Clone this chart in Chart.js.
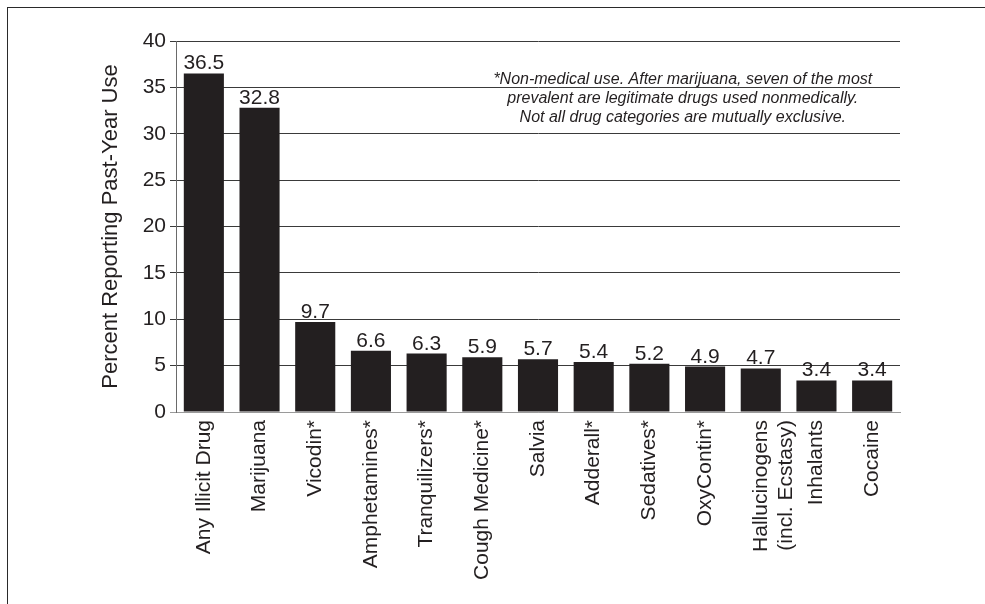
<!DOCTYPE html>
<html>
<head>
<meta charset="utf-8">
<script src="https://cdn.jsdelivr.net/npm/chart.js@4/dist/chart.umd.min.js"></script>
<style>
  html, body { margin: 0; padding: 0; background: #fff; overflow: hidden; }
  #wrap { position: relative; width: 985px; height: 604px; }
  #frame {
    position: absolute; left: 7px; top: 7px; width: 1200px; height: 1200px;
    border-top: 1px solid #2a2a2a; border-left: 1px solid #2a2a2a;
  }
  #chart { position: absolute; left: 0; top: 0; }
</style>
</head>
<body>
<div id="wrap">
  <div id="frame"></div>
  <canvas id="chart" width="985" height="604"></canvas>
</div>
<script>
// 薬物カテゴリ
const categories = [
  'Any Illicit Drug', 'Marijuana', 'Vicodin*', 'Amphetamines*', 'Tranquilizers*',
  'Cough Medicine*', 'Salvia', 'Adderall*', 'Sedatives*', 'OxyContin*',
  ['Hallucinogens', '(incl. Ecstasy)'], 'Inhalants', 'Cocaine'
];
// 過去1年の使用率 (%)
const percentValues = [36.5, 32.8, 9.7, 6.6, 6.3, 5.9, 5.7, 5.4, 5.2, 4.9, 4.7, 3.4, 3.4];
const yTicks = [0, 5, 10, 15, 20, 25, 30, 35, 40];
const noteLines = [
  '*Non-medical use. After marijuana, seven of the most',
  'prevalent are legitimate drugs used nonmedically.',
  'Not all drug categories are mutually exclusive.'
];

const FONT = "'Liberation Sans', Arial, Helvetica, sans-serif";
const INK = '#231f20';

// バーの上に数値を書く
const valueLabels = {
  id: 'valueLabels',
  afterDatasetsDraw(chart) {
    const ctx = chart.ctx;
    const meta = chart.getDatasetMeta(0);
    ctx.save();
    ctx.font = '21px ' + FONT;
    ctx.fillStyle = INK;
    ctx.textAlign = 'center';
    ctx.textBaseline = 'alphabetic';
    meta.data.forEach((bar, i) => {
      ctx.fillText(percentValues[i].toFixed(1), bar.x, bar.y - 4);
    });
    ctx.restore();
  }
};

// 右上の注記
const noteText = {
  id: 'noteText',
  afterDraw(chart) {
    const ctx = chart.ctx;
    const area = chart.chartArea;
    const y0 = chart.scales.y.getPixelForValue(36);
    const cx = area.left + (area.right - area.left) * 0.7;
    ctx.save();
    ctx.font = 'italic 16px ' + FONT;
    ctx.fillStyle = INK;
    ctx.textAlign = 'center';
    ctx.textBaseline = 'middle';
    noteLines.forEach((line, i) => ctx.fillText(line, cx, y0 + 1 + i * 19));
    ctx.restore();
  }
};

const ctx = document.getElementById('chart').getContext('2d');
new Chart(ctx, {
  type: 'bar',
  data: {
    labels: categories,
    datasets: [{
      data: percentValues,
      backgroundColor: INK,
      borderWidth: 0,
      barPercentage: 0.72,
      categoryPercentage: 1
    }]
  },
  options: {
    responsive: false,
    animation: false,
    layout: { padding: { left: 98, top: 41, right: 85, bottom: 0 } },
    plugins: { legend: { display: false }, tooltip: { enabled: false } },
    scales: {
      x: {
        grid: { display: false, drawTicks: false },
        border: { display: true, color: '#9a9a9a', width: 1 },
        ticks: {
          color: INK,
          font: { family: FONT, size: 21 },
          maxRotation: 90,
          minRotation: 90,
          padding: 8,
          autoSkip: false
        },
        afterFit(scale) { scale.height = 192; }
      },
      y: {
        min: 0,
        max: 40,
        afterBuildTicks(scale) { scale.ticks = yTicks.map(v => ({ value: v })); },
        grid: {
          color: c => (c.tick && c.tick.value === 0) ? '#9a9a9a' : '#3a3a3a',
          lineWidth: 1,
          tickLength: 6,
          drawTicks: true
        },
        border: { display: true, color: '#6a6a6a', width: 1 },
        ticks: {
          color: INK,
          font: { family: FONT, size: 21 },
          padding: 4
        },
        title: {
          display: true,
          text: 'Percent Reporting Past-Year Use',
          color: INK,
          font: { family: FONT, size: 22 },
          padding: 0
        },
        afterFit(scale) { scale.width = 78; }
      }
    }
  },
  plugins: [valueLabels, noteText]
});
</script>
</body>
</html>
